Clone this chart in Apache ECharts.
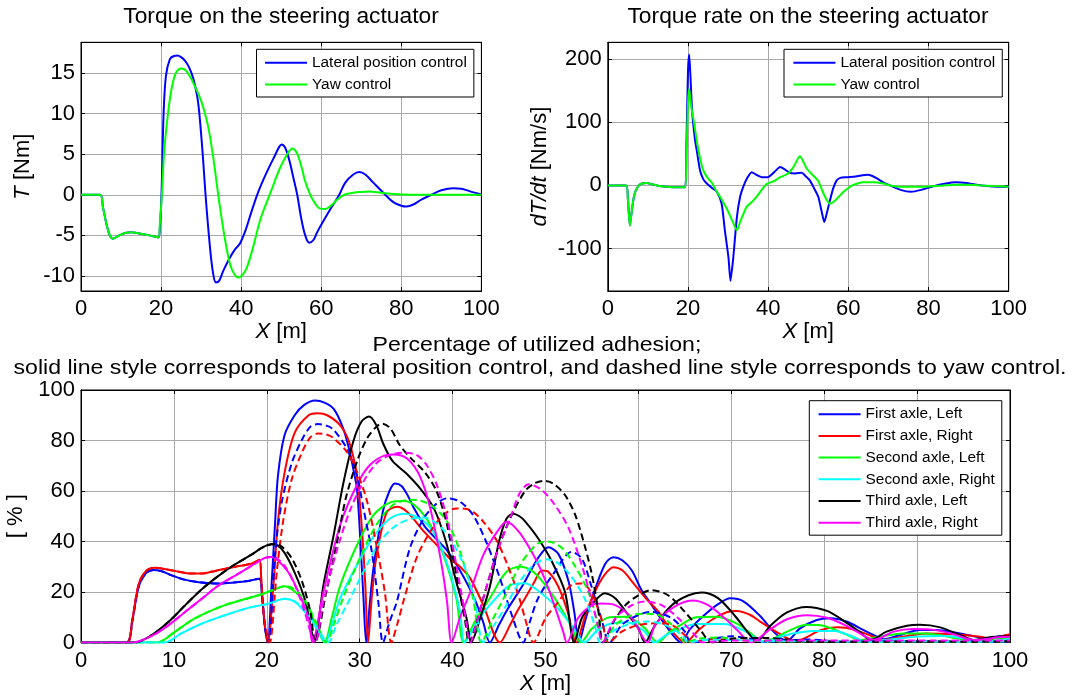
<!DOCTYPE html>
<html><head><meta charset="utf-8">
<script src="https://cdn.jsdelivr.net/npm/echarts@6/dist/echarts.min.js"></script>
<style>html,body{margin:0;padding:0;background:#fff}#c{width:1072px;height:699px}</style>
</head><body><div id="c"></div>
<script>
// ---------- DATA ----------
const topXTicks = [0, 20, 40, 60, 80, 100];
const torqueYTicks = [-10, -5, 0, 5, 10, 15];
const rateYTicks = [-100, 0, 100, 200];
const topLegend = ['Lateral position control', 'Yaw control'];
const axleNames = ['First axle, Left', 'First axle, Right', 'Second axle, Left', 'Second axle, Right', 'Third axle, Left', 'Third axle, Right'];

const torqueLateral = [[0,0],[4.7,0],[5.5,-1.6],[6.5,-3.9],[7.3,-5.1],[8,-5.4],[9,-5.15],[10,-4.9],[11,-4.7],[12.5,-4.6],[14,-4.7],[16,-4.9],[18,-5.1],[19.3,-5.25],[19.7,-4],[20.1,0],[20.6,9.6],[21.2,14.6],[22.2,16.7],[23.2,17.1],[24.1,17.15],[25,16.95],[26,16.5],[27,15.7],[28,14.4],[29,12.2],[29.5,10.3],[30.4,5],[31.1,0],[32.2,-6.4],[33,-9.7],[33.7,-10.8],[34.5,-10.6],[35.5,-9.4],[37,-7.9],[38.5,-6.7],[39.7,-6],[41,-4.5],[42.5,-2.2],[44,0],[45.5,1.8],[47,3.4],[48.5,4.9],[49.5,5.9],[50.1,6.2],[51,5.8],[52,4.3],[53,2.2],[54,0],[55,-2.9],[56,-5],[57,-5.9],[58,-5.6],[59,-4.6],[60,-3.7],[62,-2],[64.5,0],[66,1.5],[68,2.5],[69.5,2.8],[71,2.5],[73,1.5],[76,0],[78,-0.9],[80,-1.35],[81.3,-1.45],[83,-1.2],[85,-0.6],[87.5,0],[90,0.55],[93,0.8],[95,0.75],[97,0.45],[100,0.05]];
const torqueYaw = [[0,0],[4.7,0],[5.5,-1.6],[6.5,-3.9],[7.3,-5.1],[8,-5.4],[9,-5.15],[10,-4.9],[11,-4.7],[12.5,-4.6],[14,-4.7],[16,-4.9],[18,-5.1],[19.3,-5.25],[19.7,-3.5],[20.2,0],[20.8,5.5],[21.8,10.3],[22.6,13],[23.5,14.8],[24.3,15.4],[25.1,15.55],[26.2,15.3],[27.3,14.5],[28.5,13.3],[29.5,12.2],[30.5,10.8],[31.8,8.3],[33,4.7],[34,1],[34.7,-1.5],[36,-5.6],[37.2,-8.5],[38.2,-9.7],[39.3,-10.2],[40.3,-9.9],[41.4,-9],[43,-6.4],[44.7,-3.2],[46,-1.4],[47.2,0.1],[48.5,1.8],[49.7,3.3],[51.4,4.9],[52.8,5.7],[53.6,5.4],[54.3,4.7],[55.2,3.2],[55.9,1.8],[57,0.3],[58,-0.7],[59.7,-1.7],[61,-1.75],[62.5,-1.3],[64,-0.6],[65.8,0],[68,0.25],[70,0.35],[72,0.4],[74,0.3],[76,0.2],[78,0.1],[80,0.05],[85,0],[100,0]];

const rateLateral = [[0,0],[4.6,0],[5,-20],[5.5,-63],[6,-40],[6.6,-15],[7.6,-1],[8.5,3],[9.7,3.8],[11,2],[13,-1],[15.5,-2.6],[17,-3],[19.3,-3],[19.6,60],[20,180],[20.3,207],[20.6,175],[21,120],[21.3,98],[21.8,70],[22.2,55],[23,24],[23.8,10],[24.7,3],[26,-4],[27.2,-10],[28.4,-29],[29.2,-71],[30.1,-114],[30.6,-151],[31.3,-114],[32.2,-50],[33,-18],[33.8,-2],[34.8,12],[35.9,21],[37,17],[38.4,13],[39.9,13],[41.5,21],[43,29],[44.2,25],[45.4,20],[46.8,19],[48.4,20],[49.3,15],[50.4,8],[51.5,-5],[52.5,-18],[53.3,-40],[54,-58],[54.7,-42],[55.4,-24],[56.2,-5],[57.1,8],[58,12],[59.6,13],[61.8,14],[63.5,16],[64.8,17],[66,15],[66.9,12],[68.7,5],[70.4,0],[73,-7],[75.6,-10],[78.2,-7],[80.8,-2],[84.3,3],[86.8,5],[89.4,4],[92,1],[94.6,-1],[97,-2],[100,-2]];
const rateYaw = [[0,0],[4.6,0],[5,-20],[5.5,-64],[6,-40],[6.6,-15],[7.6,-1],[8.5,3],[9.7,3.8],[11,2],[13,-1],[15.5,-2.6],[17,-3],[19.3,-3],[19.6,45],[20,130],[20.3,153],[20.8,125],[21.5,100],[22.2,70],[22.8,50],[23.5,30],[24.1,20],[25,11],[25.9,5],[27,-8],[28,-18],[29.7,-37],[31,-55],[32.2,-71],[33,-58],[34.6,-34],[35.8,-27],[37.1,-18],[38.4,-7],[39.6,2],[41.5,7],[43,13],[44.8,18],[46.3,29],[47.9,46],[48.6,40],[49.5,28],[50.4,21],[51.5,14],[52.5,7],[53.3,-5],[54.2,-18],[55.4,-29],[56.5,-25],[57.6,-18],[58.8,-10],[60,-4],[61,0],[62.3,3],[63.6,5],[66.2,5],[68.7,3],[70.4,0],[73,-2],[76,-2],[79,-2],[82,-1],[84,0],[87,1],[90,1],[93,0],[96,-1],[100,-2]];

const adhXTicks = [0,10,20,30,40,50,60,70,80,90,100];
// solid: lateral position control
const firstLeftLat = [[0,0],[4.9,0],[5.5,8],[6.2,22],[7,27.5],[7.8,28.7],[8.6,28.3],[9.5,27],[10.5,25.6],[11.5,24.6],[12.5,24],[13.5,23.6],[15,23.4],[16.5,23.8],[18,24.4],[19.2,25.2],[19.5,18],[19.8,6],[20.1,0],[20.5,22],[20.9,48],[21.2,66],[21.9,82],[23,90],[24,94],[25.2,95.8],[26.2,95],[27.2,92.5],[28.2,85],[28.9,76],[29.4,67],[29.7,61],[30,45],[30.4,18],[30.7,0],[31.1,16],[31.5,30],[32.5,52],[33.2,60],[33.8,63],[34.5,62],[35.2,58],[35.8,53.5],[37,46],[38.5,40],[39.4,36.5],[40.8,28.5],[42.4,17],[43.3,8],[44,0],[45,7],[45.8,12.5],[47.6,23],[48.5,29],[49.3,34],[50.3,37.7],[51.4,35],[52.5,24],[53.1,12],[53.6,0],[54.3,9],[55,17.5],[56.4,31],[57.3,33.8],[58.3,32.5],[59.3,28.5],[60.3,21],[61.4,15],[62.9,7],[64.6,0],[65.5,5],[66.9,10.2],[68.5,15],[69.9,17.5],[71.3,16.3],[73.1,10.5],[74.5,4.5],[75.4,1.6],[76,0.8],[77.4,5.6],[79.2,8.9],[80.6,9.6],[82.4,8.3],[84.2,5],[85.7,2.3],[86.4,1.3],[88.2,3],[90.3,5],[92.1,5],[94.6,3.6],[96.8,1.9],[97.9,1.4],[98.6,2.3],[100,3]];
const firstRightLat = [[0,0],[4.9,0],[5.5,8.5],[6.2,23],[7,28.3],[7.9,29.6],[9,29.1],[10,28.4],[11,27.7],[12,27.3],[13,27.3],[14,28],[15,28.8],[16.6,30],[18.4,31.3],[19.2,32.8],[19.4,25],[19.7,10],[20.1,0],[20.7,22],[21.2,48],[21.9,67],[23,83],[24.5,90],[25.5,90.8],[26.5,90],[27.9,86],[28.9,79],[29.7,66],[30.2,47],[30.6,23],[30.9,0],[31.3,18],[31.8,34],[32.9,51.5],[34,53.8],[35.1,51.8],[36.9,44],[38.3,38.6],[39.7,33.3],[40.8,30],[41.9,25.4],[43.3,14.8],[45.1,0],[46.2,7],[46.9,12],[47.8,17.5],[48.8,24],[49.6,28.5],[50.3,28],[51.4,22],[52.4,12],[53.3,0],[54.3,11],[55.3,20],[56.3,26.5],[57.3,29.8],[58.3,28.5],[59.5,23.3],[60.8,17.5],[62.1,12.5],[63.3,6],[65,0],[66.5,5],[68,9.2],[69.5,12],[70.6,12.5],[72,11],[73.1,8.3],[75.4,3],[76.9,0.7],[77.8,1.5],[79.6,4.9],[81.4,6],[83.2,5.1],[85.3,2.3],[86.1,1],[88.5,2.3],[91,3.6],[93.9,3.3],[96.8,2.3],[97.9,1.4],[98.6,2],[100,3.3]];
const secondLeftLat = [[0,0],[8.3,0],[9,1.2],[10.1,4.2],[11.9,8.8],[13.7,12.1],[15.5,14.8],[17.3,16.8],[19.1,18.7],[20.9,21.1],[21.9,22.3],[23,20.2],[24.1,16],[24.7,12],[25.5,5],[26.2,0],[27,10],[27.9,22.5],[29.7,38.5],[31.5,50.5],[33.3,55.5],[34.7,56],[36.1,53.8],[37.6,46.6],[39,34.8],[40.4,17.5],[41.2,0],[42.5,9],[44,17.5],[45.8,28],[47.3,30],[48.5,28.5],[49.6,24.5],[51,17.5],[52.5,8.3],[53.8,0],[55,5.5],[56.9,10],[58.7,10.2],[60.6,6],[62.1,0],[63.3,4],[64.7,7.3],[66.2,10],[68.4,10.2],[70.7,7.3],[72.3,3],[73.3,0.5],[74.5,1.5],[76,4.3],[78.1,7],[79.9,6.6],[82.1,3.6],[83.9,1],[86,2.3],[88.5,3.6],[91,3.6],[93.9,1.9],[95.7,1],[98.4,1.6],[100,2]];
const secondRightLat = [[0,0],[9,0],[10.8,3.6],[13,7.5],[15.5,10.8],[18,13.7],[20.2,15.4],[21.9,17.3],[23,16.2],[24.1,12.1],[24.7,9.5],[25.6,4],[26.3,0],[27,7],[27.9,17.5],[29.7,30.7],[31.5,42],[33.3,49.2],[34.9,51],[36.9,48],[38.3,41.3],[39.7,28],[40.8,12.1],[41.3,0],[42.6,8],[44,14.8],[46.2,22.7],[47.8,23.5],[49.2,20.5],[51,14.8],[52.8,6.9],[54.2,0],[55.5,4.5],[56.9,7.3],[58.7,8],[60.6,4.6],[61.7,0],[63,3],[64,4.6],[66.2,7.3],[69.2,7.3],[71.4,4.6],[73.6,0],[75,2],[76.3,3.3],[78.8,4.6],[81.1,4.6],[83.3,2],[84.4,0.3],[87.4,1.3],[90,2.4],[93,2.6],[95.6,1.3],[96.7,0.3],[100,1.3]];
const thirdLeftLat = [[0,0],[5.8,0],[7.6,2.9],[9.4,8.1],[11.2,14.7],[13,21.1],[14.8,26.4],[16.6,31],[18.4,34.9],[19.5,37.6],[20.5,38.9],[21.1,38.6],[21.9,35.6],[23,27.7],[24.1,17],[24.8,5],[25.1,0],[26.1,22.8],[27.2,42.6],[28.2,62.4],[29.3,79.5],[30.2,87.5],[31,89.5],[31.8,86],[32.5,79],[33.5,72],[35,67],[36.5,61],[38,53],[39.2,41],[40.4,24],[41.5,9.6],[42,0],[43,10],[44,22],[45,40],[45.8,49],[46.5,51],[47.2,50],[47.8,48],[49.2,41.3],[50.7,32],[52.1,20],[53.1,0],[53.9,9.6],[54.9,14.8],[56.4,19.5],[57.5,17.5],[58.9,10.9],[60,5.6],[60.7,0],[61.8,6.9],[63.6,14.8],[65.4,18.7],[66.8,19.8],[68.6,17.5],[70.4,10.5],[72,3],[72.7,0.3],[74.2,6.6],[76,11.9],[78.1,14.1],[80.3,12.5],[82.1,8.6],[83.9,4],[85,1],[86.7,4.3],[88.9,6.6],[90.3,7],[92.5,6],[94.6,3],[96.1,1],[97.5,1.9],[98.4,2.3],[100,2.5]];
const thirdRightLat = [[0,0],[5.6,0],[7.6,2.6],[9.4,6.8],[11.2,12.1],[13,17.3],[14.8,22.6],[16.6,26.5],[18.4,30.5],[19.8,33.5],[20.5,33.9],[21.2,32.5],[22.3,27.9],[23.4,20],[24.5,9.5],[24.9,0],[26.1,20],[27.9,46.6],[29.7,62.4],[31.1,70.3],[32.9,74.3],[33.6,74.5],[35.1,72.9],[36.5,65.7],[37.6,53.1],[38.7,33.3],[39.4,16.2],[39.9,0],[40.8,10],[41.9,20],[43.3,34.6],[44.8,43.9],[45.8,47.8],[47.1,44],[48.5,36],[49.6,28],[50.7,17.5],[51.9,4.3],[52.3,0],[53.5,9.6],[55,14.8],[56,15.4],[57.5,14.8],[59.3,9.6],[61,0],[61.8,6.9],[63.6,13.5],[65.8,16.6],[67.5,14.8],[69.3,9.6],[70.8,4.3],[72.1,0],[74.2,5.3],[76,9.2],[78.1,10.8],[80.3,9.8],[82.4,6.6],[84.6,2],[85.3,1],[87.5,4.3],[89.6,5.3],[91.8,5],[93.9,3.3],[96.1,1],[97.9,1.6],[98.4,2],[100,2.3]];
// dashed: yaw control
const firstLeftYaw = [[0,0],[4.9,0],[5.5,8],[6.2,22],[7,27.5],[7.8,28.7],[8.6,28.3],[9.5,27],[10.5,25.6],[11.5,24.6],[12.5,24],[13.5,23.6],[15,23.4],[16.5,23.8],[18,24.4],[19.2,25.2],[19.5,18],[19.8,6],[20.2,0],[20.9,35.6],[21.6,55.4],[22.7,71.2],[23.8,80.4],[24.7,85.5],[25.5,86.5],[26.5,85.8],[27.2,84.2],[28.6,76.9],[29.7,66.3],[30.4,53.1],[31.3,36],[32,16.2],[32.5,0],[33.2,8],[34,16.2],[35.4,37.3],[36.9,49.2],[38.3,55.1],[39.4,57.1],[40.8,55.8],[42.2,50.5],[43.6,40],[45.1,25.4],[46.5,9.5],[47.6,0],[48.3,8],[49.2,17.5],[51,28],[52.8,35.9],[53.9,33.3],[54.9,22.8],[56,9.6],[56.9,0],[58.2,6.9],[60,10.9],[61.4,12.1],[63.6,9.6],[65,4.3],[65.7,0],[68,1.5],[70,2.5],[72,1.5],[74,0.3],[76,0.8],[78,1.2],[80,0.8],[82,0.3],[86,0.5],[90,0.5],[95,0.3],[100,0.3]];
const firstRightYaw = [[0,0],[4.9,0],[5.5,8.5],[6.2,23],[7,28.3],[7.9,29.6],[9,29.1],[10,28.4],[11,27.7],[12,27.3],[13,27.3],[14,28],[15,28.8],[16.6,30],[18.4,31.3],[19.2,32.8],[19.4,25],[19.7,10],[20.3,0],[21.1,29],[21.8,49],[22.7,64.8],[23.8,75.4],[24.7,81.3],[25.5,82.8],[26.5,82.3],[27.2,80.9],[28.6,75.6],[29.7,67.7],[30.8,55.8],[31.8,38.6],[32.7,20.1],[33.4,0],[34.1,8],[34.7,16.2],[36.1,33.3],[37.6,43.9],[39,50.5],[40.4,53.1],[41.9,52.4],[43.3,47.9],[44.8,40],[46.2,28],[47.3,16.2],[47.8,9.5],[48.7,0],[50,9.6],[51.4,16.2],[52.8,22.8],[53.9,23.4],[54.9,20],[56,9.6],[56.8,0],[58.2,4.3],[60,6.9],[61.8,7.6],[63.6,6.9],[65,2.9],[65.7,0],[67.7,1.3],[70,1],[75,0.5],[80,0.5],[85,0.3],[90,0.5],[95,0.3],[100,0.5]];
const secondLeftYaw = [[0,0],[8.3,0],[9,1.2],[10.1,4.2],[11.9,8.8],[13.7,12.1],[15.5,14.8],[17.3,16.8],[19.1,18.7],[20.9,21.1],[21.9,22.3],[22.5,22],[23.3,20],[24.3,15.5],[25.3,8],[26.4,0],[27.3,8],[28.2,17.5],[30,33.3],[31.8,46.6],[33.6,54.5],[35.4,56.5],[36.5,56.2],[37.9,53.8],[39.4,47.9],[40.8,36],[42.2,17.5],[43.1,0],[44.3,9],[45.5,17.5],[47.3,31],[48.3,36],[49.2,39.3],[50.3,40],[51.8,37.3],[53.1,30.7],[54.6,20.1],[55.7,6.9],[56.2,0],[57.5,6.9],[59.3,10.9],[60.7,11.4],[62.1,11],[63.3,8],[64.3,4.3],[65,0],[66.5,1.5],[68.8,2],[71,1],[75,0.5],[80,0.5],[85,0.3],[90,0.5],[95,0.3],[100,0.5]];
const secondRightYaw = [[0,0],[9,0],[10.8,3.6],[13,7.5],[15.5,10.8],[18,13.7],[20.2,15.4],[21.9,17.3],[22.5,17],[23.5,15],[24.7,10],[25.7,4],[26.6,0],[27.5,7],[28.6,14.8],[30.4,28],[32.2,40],[34,46.6],[35.8,49.2],[36.9,49.5],[38.3,47.2],[39.7,41.3],[41.2,30.7],[42.4,16.2],[43.3,0],[44.5,7],[45.8,14.8],[46.7,21],[47.6,26],[48.5,30],[50,33],[51.4,31.3],[52.8,26],[54.2,17.5],[55.3,6.9],[55.9,0],[57.5,5],[59.3,7.6],[61,8.3],[62.9,6.9],[64.7,2.9],[65.4,0],[67,1],[70,1],[75,0.5],[80,0.5],[85,0.3],[90,0.5],[95,0.3],[100,0.5]];
const thirdLeftYaw = [[0,0],[5.8,0],[7.6,2.9],[9.4,8.1],[11.2,14.7],[13,21.1],[14.8,26.4],[16.6,31],[18.4,34.9],[19.5,37.6],[20.5,38.9],[20.9,39],[21.6,38],[22.7,33.3],[23.8,24.1],[24.7,12],[25.2,0],[26.4,20],[27.5,38.6],[28.5,57.1],[29.7,71.6],[30.8,80.9],[31.8,85.5],[32.4,86.7],[33.3,84.8],[34.3,78.2],[35.5,73],[37,67.5],[38.3,59.7],[39.4,46.6],[40.4,26.8],[41.3,9.6],[41.8,0],[42.5,7],[43.3,17.5],[44.8,36],[46.2,49.2],[47.8,60],[48.8,63],[49.8,64],[50.8,63],[52.1,58.4],[53.2,50.5],[54.2,38.6],[55,26.8],[55.7,12.2],[56.2,0],[57.3,8],[58.6,14.8],[60,18.7],[61.4,20.7],[63.2,18.7],[65,12.1],[66.8,4.3],[67.9,0],[70,1.5],[72,1.8],[74,1.8],[76,1.2],[78,0.5],[80,0.3],[85,0.3],[90,0.5],[95,0.3],[100,0.5]];
const thirdRightYaw = [[0,0],[5.6,0],[7.6,2.6],[9.4,6.8],[11.2,12.1],[13,17.3],[14.8,22.6],[16.6,26.5],[18.4,30.5],[19.8,33.5],[20.5,33.9],[21,33.5],[22,30],[23,23],[24,13],[24.8,3],[25.2,0],[26.1,16.2],[27.5,36],[28.9,51.8],[30.4,63.7],[31.8,71],[33.3,74.3],[34.7,75.2],[36.1,74.3],[37.2,70.3],[38.3,62.4],[39.4,49.2],[40.4,30.7],[41.3,12.2],[41.9,0],[42.6,8],[43.3,17.5],[44.8,36],[46.2,49.2],[47.2,59],[48.2,62.7],[49.6,60.4],[51,54.5],[52.5,45.2],[53.9,30.7],[55,16.2],[55.7,5.6],[56.1,0],[57.5,9.6],[59.3,14.8],[60.7,16.2],[62.5,14.8],[64.3,9.6],[66.1,2.9],[66.8,0],[70,0.8],[75,0.8],[80,0.8],[85,0.8],[90,0.8],[95,0.8],[100,0.8]];

const axleColors = ['#0000ff','#ff0000','#00ff00','#00ffff','#000000','#ff00ff'];
const adhLat = [firstLeftLat, firstRightLat, secondLeftLat, secondRightLat, thirdLeftLat, thirdRightLat];
const adhYaw = [firstLeftYaw, firstRightYaw, secondLeftYaw, secondRightYaw, thirdLeftYaw, thirdRightYaw];

// ---------- CHART ----------
const FONT = "'Liberation Sans', Arial, sans-serif";
const gridLine = {show: true, lineStyle: {color: '#a8a8a8', width: 1}};
const tick = {show: true, inside: true, length: 4, lineStyle: {color: '#000', width: 1}};
const lbl = {color: '#000', fontSize: 22, fontFamily: FONT};
const nameStyle = {color: '#000', fontSize: 22, fontFamily: FONT, rich: {i: {fontStyle: 'italic', fontSize: 22, fontFamily: FONT, color: '#000'}}};
const axLine = {show: true, onZero: false, lineStyle: {color: '#000'}};

function xPair(g, min, max, interval, name, gap) {
  return [
    {type: 'value', gridIndex: g, position: 'bottom', min, max, interval,
     axisLine: axLine, axisTick: tick,
     axisLabel: Object.assign({margin: 7}, lbl), splitLine: gridLine,
     name, nameLocation: 'middle', nameGap: gap, nameTextStyle: nameStyle},
    {type: 'value', gridIndex: g, position: 'top', min, max, interval,
     axisLine: axLine, axisTick: tick,
     axisLabel: {show: false}, splitLine: {show: false}}
  ];
}
function yPair(g, min, max, ticks, interval, name, gap) {
  const base = {type: 'value', gridIndex: g, min, max};
  if (ticks) { base.axisTick = Object.assign({customValues: ticks}, tick); }
  else { base.interval = interval; base.axisTick = tick; }
  const lab = Object.assign({margin: 6}, lbl);
  if (ticks) lab.customValues = ticks;
  return [
    Object.assign({}, base, {position: 'left', axisLine: axLine,
      axisLabel: lab, splitLine: gridLine, name, nameLocation: 'middle', nameGap: gap, nameTextStyle: nameStyle}),
    Object.assign({}, base, {position: 'right', axisLine: axLine,
      axisLabel: {show: false}, splitLine: {show: false}})
  ];
}

const xAxes = [].concat(
  xPair(0, 0, 100, 20, '{i|X} [m]', 26),
  xPair(1, 0, 100, 20, '{i|X} [m]', 26),
  xPair(2, 0, 100, 10, '{i|X} [m]', 30)
);
const yAxes = [].concat(
  yPair(0, -11.85, 18.78, torqueYTicks, null, '{i|T} [Nm]', 47),
  yPair(1, -167, 226.4, rateYTicks, null, '{i|dT/dt} [Nm/s]', 57),
  yPair(2, 0, 100, null, 20, '[ % ]', 50)
);

const line = (name, data, color, xi, yi, dashed, smooth) => ({
  type: 'line', name, data, xAxisIndex: xi, yAxisIndex: yi, symbol: 'none', showSymbol: false,
  smooth: smooth, clip: true, animation: false,
  lineStyle: {color, width: 2, type: dashed ? [7, 4] : 'solid'}, itemStyle: {color}
});

const series = [
  line(topLegend[0], torqueLateral, '#0000ff', 0, 0, false, 0.35),
  line(topLegend[1], torqueYaw, '#00ff00', 0, 0, false, 0.35),
  line(topLegend[0], rateLateral, '#0000ff', 2, 2, false, 0.2),
  line(topLegend[1], rateYaw, '#00ff00', 2, 2, false, 0.2)
];
adhLat.forEach((d, i) => series.push(line(axleNames[i], d, axleColors[i], 4, 4, false, 0.3)));
adhYaw.forEach((d, i) => series.push(line(axleNames[i] + ' (yaw)', d, axleColors[i], 4, 4, true, 0.3)));

const legendBase = {orient: 'vertical', icon: 'rect', itemWidth: 42, itemHeight: 2, itemGap: 6.7,
  borderColor: '#000', borderWidth: 1, backgroundColor: '#fff', borderRadius: 0,
  selectedMode: false, textStyle: {fontSize: 15.4, fontFamily: FONT, color: '#000'}};

const option = {
  backgroundColor: '#fff',
  animation: false,
  textStyle: {fontFamily: FONT},
  grid: [
    {left: 81, top: 42.3, width: 400.4, height: 248.7, show: true, borderColor: '#000', borderWidth: 1, backgroundColor: '#fff', containLabel: false, outerBoundsMode: 'none'},
    {left: 607.8, top: 42.3, width: 400.9, height: 248.7, show: true, borderColor: '#000', borderWidth: 1, backgroundColor: '#fff', containLabel: false, outerBoundsMode: 'none'},
    {left: 81, top: 390, width: 929, height: 252.5, show: true, borderColor: '#000', borderWidth: 1, backgroundColor: '#fff', containLabel: false, outerBoundsMode: 'none'}
  ],
  xAxis: xAxes,
  yAxis: yAxes,
  legend: [
    Object.assign({}, legendBase, {data: topLegend, left: 256.5, top: 49.3, padding: [6, 7, 5, 8.5]}),
    Object.assign({}, legendBase, {data: topLegend, left: 784, top: 49.3, padding: [6, 7, 5, 9.4]}),
    Object.assign({}, legendBase, {data: axleNames, left: 809.3, top: 400.7, padding: [6, 7, 5, 9.3]})
  ],
  graphic: [
    {type: 'text', x: 281, y: 17.5, scaleX: 1.06, style: {text: 'Torque on the steering actuator', font: '21.5px ' + FONT, fill: '#000', textAlign: 'center', textVerticalAlign: 'middle'}},
    {type: 'text', x: 808, y: 17.5, scaleX: 1.06, style: {text: 'Torque rate on the steering actuator', font: '21.5px ' + FONT, fill: '#000', textAlign: 'center', textVerticalAlign: 'middle'}},
    {type: 'text', x: 537, y: 345, scaleX: 1.1, style: {text: 'Percentage of utilized adhesion;', font: '21px ' + FONT, fill: '#000', textAlign: 'center', textVerticalAlign: 'middle'}},
    {type: 'text', x: 540, y: 368, scaleX: 1.1, style: {text: 'solid line style corresponds to lateral position control, and dashed line style corresponds to yaw control.', font: '21px ' + FONT, fill: '#000', textAlign: 'center', textVerticalAlign: 'middle'}}
  ],
  series
};
const chart = echarts.init(document.getElementById('c'), null, {renderer: 'canvas'});
chart.setOption(option);
</script></body></html>
